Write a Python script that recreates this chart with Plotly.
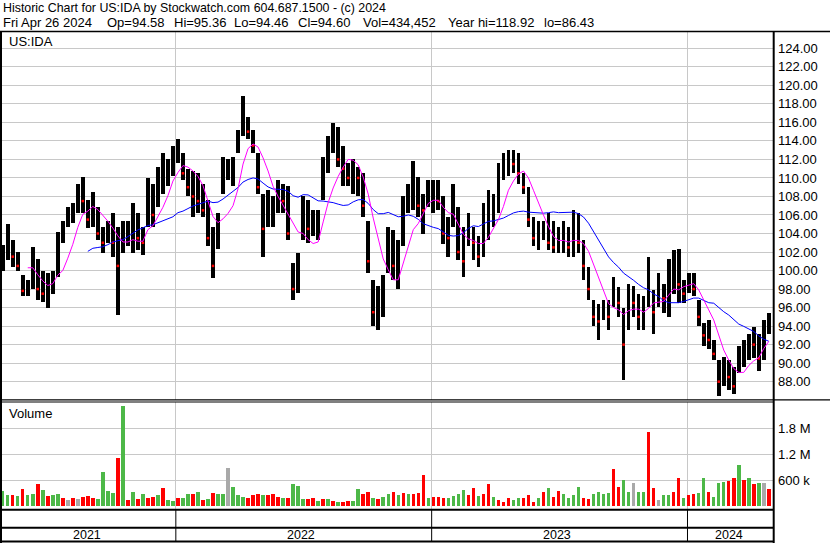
import pandas as pd
import plotly.graph_objects as go

# ---------------- data ----------------
first_date = "2021-04-29"
last_date = "2024-04-26"

highs = [
    102.8, 105.0, 103.3, 102.0, 99.5, 99.0, 102.5, 101.3, 100.0, 99.7,
    100.0, 104.2, 105.4, 106.9, 107.3, 109.4, 110.1, 107.6, 108.5, 106.9,
    104.7, 105.4, 106.2, 104.7, 105.4, 105.4, 107.3, 106.2, 104.7, 110.0,
    109.4, 111.2, 112.7, 112.0, 113.4, 114.2, 112.7, 111.0, 110.8, 110.5,
    109.4, 107.6, 104.7, 106.2, 112.3, 112.0, 112.3, 115.2, 118.9, 116.6,
    115.2, 112.7, 108.3, 108.7, 108.0, 109.8, 109.4, 109.1, 100.8, 101.9,
    108.0, 107.6, 106.5, 106.5, 112.3, 114.5, 115.9, 115.5, 113.4, 111.6,
    112.0, 111.2, 110.5, 105.4, 99.0, 98.3, 99.5, 104.7, 104.4, 103.3,
    108.0, 109.4, 111.8, 110.1, 108.3, 109.8, 109.8, 109.8, 108.0, 105.8,
    109.4, 106.9, 104.7, 106.2, 104.7, 103.7, 107.3, 108.7, 108.3, 111.6,
    112.7, 113.0, 113.0, 112.7, 110.5, 109.0, 105.8, 105.4, 105.4, 106.2,
    105.4, 104.7, 105.4, 104.7, 106.5, 106.2, 103.3, 100.4, 96.8, 96.4,
    96.8, 96.8, 99.3, 98.2, 96.0, 98.5, 98.3, 97.5, 97.2, 101.5,
    97.9, 99.7, 98.6, 101.2, 102.2, 102.3, 99.0, 99.7, 99.7, 96.8,
    94.3, 94.7, 92.5, 90.3, 90.7, 90.3, 89.6, 91.8, 92.5, 93.2,
    93.9, 93.2, 94.7, 95.4,
]
lows = [
    100.0, 101.1, 100.4, 100.0, 97.2, 97.2, 98.0, 96.8, 96.6, 96.0,
    97.5, 99.3, 103.0, 104.7, 105.1, 106.2, 106.2, 104.6, 104.7, 103.3,
    101.9, 103.0, 101.5, 95.2, 101.9, 102.6, 101.9, 102.2, 101.7, 104.7,
    104.7, 106.9, 108.3, 109.1, 110.2, 111.6, 109.8, 108.0, 105.8, 106.2,
    105.8, 102.6, 99.2, 102.3, 108.3, 109.8, 109.1, 112.7, 114.5, 114.2,
    112.7, 108.3, 101.5, 104.7, 104.7, 106.2, 106.2, 103.3, 96.8, 97.6,
    103.3, 103.0, 103.7, 103.3, 107.6, 110.5, 112.7, 111.2, 109.1, 109.1,
    108.3, 108.0, 105.8, 99.7, 94.0, 93.6, 95.0, 99.7, 99.0, 98.0,
    102.6, 106.2, 106.5, 105.8, 104.0, 106.9, 106.2, 106.5, 102.9, 101.5,
    104.7, 101.1, 99.3, 102.6, 101.1, 100.4, 101.5, 103.3, 104.7, 106.2,
    109.8, 110.2, 110.5, 109.4, 108.3, 104.7, 102.6, 102.2, 103.3, 102.2,
    101.9, 101.9, 101.9, 101.5, 101.5, 101.9, 99.0, 96.8, 94.0, 92.5,
    94.7, 93.6, 96.1, 95.0, 88.2, 93.6, 95.0, 93.6, 93.6, 96.1,
    93.2, 96.1, 95.4, 95.0, 97.5, 96.5, 96.5, 97.6, 97.2, 94.0,
    91.8, 91.5, 90.3, 86.4, 87.5, 87.1, 86.7, 88.9, 89.6, 90.3,
    90.6, 89.2, 90.3, 93.2,
]
closes = [
    101.5, 102.5, 101.5, 100.5, 97.8, 98.0, 101.5, 98.0, 97.5, 97.5,
    99.0, 103.5, 104.5, 106.0, 106.5, 108.5, 107.5, 105.5, 107.5, 104.0,
    103.0, 104.5, 103.0, 100.5, 103.5, 104.0, 104.5, 103.5, 103.0, 108.0,
    106.0, 110.0, 110.5, 111.0, 112.5, 113.5, 110.5, 109.0, 108.0, 107.5,
    106.5, 103.5, 100.5, 105.0, 110.5, 111.0, 111.5, 114.5, 116.5, 115.0,
    113.5, 109.0, 104.5, 106.0, 106.5, 108.5, 107.5, 104.0, 98.0, 100.5,
    105.5, 104.5, 105.0, 105.0, 111.0, 113.0, 115.0, 112.0, 111.0, 110.0,
    110.5, 110.0, 107.0, 101.0, 95.5, 96.0, 98.0, 103.0, 100.5, 101.0,
    106.0, 107.5, 108.5, 107.0, 106.5, 108.0, 108.0, 107.5, 104.0, 103.5,
    105.5, 102.0, 101.0, 104.5, 103.0, 101.5, 105.5, 106.0, 107.0, 110.0,
    111.5, 112.0, 111.5, 110.5, 109.0, 105.5, 103.5, 103.5, 104.0, 103.0,
    102.5, 103.0, 103.5, 102.5, 105.0, 103.0, 100.5, 98.0, 95.0, 94.5,
    95.5, 95.0, 98.0, 96.5, 92.0, 97.0, 96.5, 95.0, 96.0, 99.0,
    95.5, 97.5, 97.0, 99.0, 100.0, 98.5, 97.5, 98.5, 98.0, 95.0,
    93.0, 92.5, 91.0, 88.0, 89.0, 88.5, 87.5, 90.0, 91.0, 92.5,
    92.0, 90.5, 93.5, 94.6,
]
volume_thousands = [
    360, 260, 260, 240, 400, 260, 290, 515, 377, 230,
    260, 285, 190, 150, 190, 170, 225, 240, 190, 175,
    790, 354, 300, 1120, 2320, 150, 330, 180, 290, 190,
    220, 270, 430, 150, 130, 190, 190, 275, 285, 340,
    150, 170, 315, 285, 275, 890, 440, 260, 225, 190,
    250, 280, 260, 260, 285, 220, 190, 200, 515, 477,
    170, 170, 190, 130, 165, 170, 130, 95, 110, 130,
    130, 392, 290, 338, 190, 170, 225, 280, 323, 260,
    315, 285, 285, 300, 723, 190, 225, 225, 190, 200,
    240, 280, 377, 260, 430, 240, 285, 515, 210, 150,
    110, 190, 150, 190, 190, 260, 110, 190, 323, 430,
    225, 354, 280, 200, 260, 446, 190, 170, 280, 338,
    295, 300, 862, 454, 600, 338, 538, 340, 340, 1710,
    415, 150, 260, 250, 323, 662, 190, 260, 285, 300,
    662, 340, 225, 530, 554, 585, 662, 954, 600, 650,
    508, 530, 538, 392,
]
# g = up, r = down, n = unchanged
volume_direction = list(
    "ggrgrggrgr" "ggrnrnrrrg" "gggrgrgrgr" "rgrggrggrg" "rgrggngggr"
    "rrgrrrgrgg" "grrgrgrgrr" "ggrrgrggrg" "rgrrrgrrrg" "gggrrgrrgr"
    "rrggrrrgrg" "rrggggrrgg" "ggrrggnggr" "rnggrrgrrg" "grgggrrgrg"
    "rgnr"
)
year_labels = ["2021", "2022", "2023", "2024"]
year_starts = ["2022-01-01", "2023-01-01", "2024-01-01"]
price_ticks = list(range(88, 125, 2))
volume_ticks = [600000, 1200000, 1800000]
volume_tick_text = ["600 k", "1.2 M", "1.8 M"]
fast_window = 6
slow_window = 18

header_line1 = "Historic Chart for US:IDA by Stockwatch.com 604.687.1500 - (c) 2024"
header_items = ["Fri Apr 26 2024", "Op=94.58", "Hi=95.36", "Lo=94.46",
                "Cl=94.60", "Vol=434,452", "Year hi=118.92", "lo=86.43"]

# ---------------- derived ----------------
dates = pd.date_range(first_date, last_date, periods=len(closes))
close_s = pd.Series(closes)
ma_fast = close_s.rolling(fast_window).mean()
ma_slow = close_s.rolling(slow_window).mean()
ranges = [h - l for h, l in zip(highs, lows)]
volumes = [v * 1000 for v in volume_thousands]
color_map = {"g": "#4DB848", "r": "#FF0000", "n": "#A9A9A9"}
vol_colors = [color_map[c] for c in volume_direction]
down_idx = [i for i in range(1, len(closes)) if closes[i] < closes[i - 1]]
down_dates = [dates[i] for i in down_idx]
down_closes = [closes[i] for i in down_idx]

W, H = 830, 543
def px(x):
    return x / W
def py(y):
    return 1 - y / H

DAY_MS = 86400000
FONT = "Liberation Sans, Arial, sans-serif"

fig = go.Figure()

fig.add_trace(go.Bar(x=dates, y=ranges, base=lows, width=5.3 * DAY_MS,
                     marker=dict(color="#000000", line=dict(width=0)),
                     xaxis="x", yaxis="y", hoverinfo="skip"))
fig.add_trace(go.Scatter(x=down_dates, y=down_closes, mode="markers",
                         marker=dict(color="#FF0000", size=2.5, symbol="square",
                                     line=dict(width=0)),
                         xaxis="x", yaxis="y", hoverinfo="skip"))
fig.add_trace(go.Scatter(x=dates, y=ma_slow, mode="lines",
                         line=dict(color="#0000FF", width=1),
                         xaxis="x", yaxis="y", hoverinfo="skip"))
fig.add_trace(go.Scatter(x=dates, y=ma_fast, mode="lines",
                         line=dict(color="#FF00FF", width=1),
                         xaxis="x", yaxis="y", hoverinfo="skip"))
fig.add_trace(go.Bar(x=dates, y=volumes, width=5.0 * DAY_MS,
                     marker=dict(color=vol_colors, line=dict(width=0)),
                     xaxis="x2", yaxis="y2", hoverinfo="skip"))

x_range = ["2021-04-28", "2024-05-02"]
grid = "#C8C8C8"
tickfont = dict(family=FONT, size=13, color="#000000")

fig.update_layout(
    width=W, height=H, margin=dict(l=0, r=0, t=0, b=0),
    paper_bgcolor="#FFFFFF", plot_bgcolor="#FFFFFF",
    showlegend=False, bargap=0,
    xaxis=dict(domain=[px(2), px(773)], anchor="y", type="date", range=x_range,
               tickvals=year_starts, showticklabels=False, showgrid=True,
               gridcolor=grid, gridwidth=1, zeroline=False, showline=False, ticks=""),
    yaxis=dict(domain=[py(400), py(32)], anchor="x", range=[86.02, 125.76],
               side="right", tickvals=price_ticks, tickformat=".2f",
               showgrid=True, gridcolor=grid, gridwidth=1, zeroline=False,
               showline=False, ticks="", tickfont=tickfont, ticklabelstandoff=4),
    xaxis2=dict(domain=[px(2), px(773)], anchor="y2", type="date", range=x_range,
                matches="x", tickvals=year_starts, showticklabels=False,
                showgrid=True, gridcolor=grid, gridwidth=1, zeroline=False,
                showline=False, ticks=""),
    yaxis2=dict(domain=[py(509), py(402)], anchor="x2", range=[-62000, 2407000],
                side="right", tickvals=volume_ticks, ticktext=volume_tick_text,
                showgrid=True, gridcolor=grid, gridwidth=1, zeroline=False,
                showline=False, ticks="", tickfont=tickfont, ticklabelstandoff=4),
)

shapes = []
def hline(y, x0, x1, w=1):
    shapes.append(dict(type="line", xref="paper", yref="paper",
                       x0=px(x0), x1=px(x1), y0=py(y), y1=py(y),
                       line=dict(color="#000000", width=w)))
def vline(x, y0, y1, w=1):
    shapes.append(dict(type="line", xref="paper", yref="paper",
                       x0=px(x), x1=px(x), y0=py(y0), y1=py(y1),
                       line=dict(color="#000000", width=w)))

hline(31.5, 0, 830, 1.3)
hline(399.8, 0, 830, 1.2)
hline(402, 0, 773, 1)
hline(509.8, 0, 774, 2)
hline(527.8, 0, 774, 2)
hline(541.5, 0, 774, 2)
vline(1, 31, 543, 2)
vline(773.7, 31, 543, 2)
for ys in year_starts:
    shapes.append(dict(type="line", xref="x2", yref="paper", x0=ys, x1=ys,
                       y0=py(510), y1=py(541), line=dict(color="#000000", width=1)))
fig.update_layout(shapes=shapes)

ann = []
def text(t, x, y, size=13, xanchor="left"):
    ann.append(dict(text=t, x=px(x), y=py(y), xref="paper", yref="paper",
                    xanchor=xanchor, yanchor="middle", showarrow=False,
                    font=dict(family=FONT, size=size, color="#000000")))

text(header_line1, 1, 7.5, size=12.4)
header_x = [1, 105, 172, 232, 296, 361, 446, 542]
for t, x in zip(header_items, header_x):
    text(t, x, 22.5)
text("US:IDA", 7, 41.5)
text("Volume", 7, 413.5)
year_label_x = [87, 301, 557, 729]
for t, x in zip(year_labels, year_label_x):
    text(t, x, 535, size=12.5, xanchor="center")
fig.update_layout(annotations=ann)

fig.write_html("out.html", config={"displayModeBar": False},
               post_script="document.body.style.margin='0px';")
